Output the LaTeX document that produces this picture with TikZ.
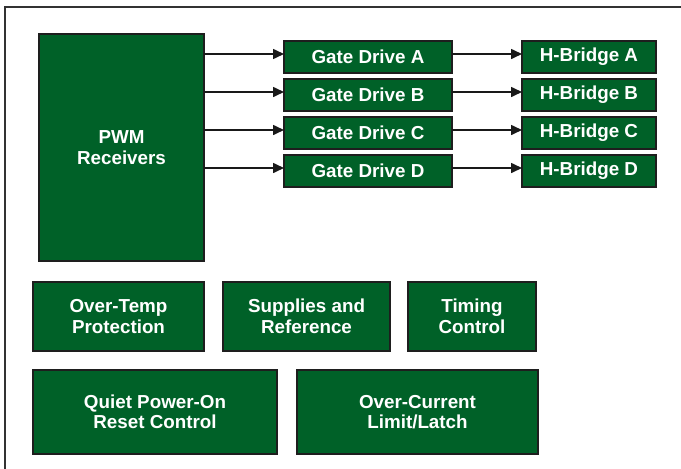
\documentclass[tikz,border=0pt]{standalone}
\usepackage{fontspec}
\setmainfont{Liberation Sans}
\usetikzlibrary{arrows.meta}
\definecolor{blockgreen}{RGB}{0,97,40}
\definecolor{blockedge}{RGB}{30,30,30}
\definecolor{framegray}{RGB}{50,50,50}
\tikzset{
  blk/.style={draw=blockedge, line width=1.6pt, fill=blockgreen, text=white,
    font=\bfseries\fontsize{18.8}{20.5}\selectfont, align=center,
    inner sep=0pt, outer sep=0pt},
  arr/.style={line width=1.6pt, draw=black!90,
    -{Triangle[length=11pt,width=10pt]}},
}
\begin{document}
\begin{tikzpicture}[x=1pt,y=-1pt]
\useasboundingbox[fill=white] (0,0) rectangle (681,469);
% open frame along the top and left
\draw[framegray, line width=1.5pt] (5,469) -- (5,7) -- (681,7);

% receiver block
\node[blk, minimum width=165, minimum height=227] (pwm) at (121.5,147.5) {PWM\\Receivers};

% gate drives and bridges
\foreach \ch/\yy in {A/57,B/95,C/133,D/171}{
  \node[blk, minimum width=168, minimum height=32] (g\ch) at (368,\yy) {Gate Drive \ch};
  \node[blk, minimum width=134, minimum height=32] (h\ch) at (589,\yy) {H-Bridge \ch};
  \draw[arr] ([yshift=3pt]g\ch.west -| pwm.east) -- ([yshift=3pt]g\ch.west);
  \draw[arr] ([yshift=3pt]g\ch.east) -- ([yshift=3pt]h\ch.west);
}

% support blocks
\node[blk, minimum width=171, minimum height=69] (otp) at (118.5,316.5) {Over-Temp\\Protection};
\node[blk, minimum width=167, minimum height=69] (sup) at (306.5,316.5) {Supplies and\\Reference};
\node[blk, minimum width=128, minimum height=69] (tim) at (472,316.5) {Timing\\Control};
\node[blk, minimum width=244, minimum height=84] (por) at (155,412) {Quiet Power-On\\Reset Control};
\node[blk, minimum width=241, minimum height=84] (ocl) at (417.5,412) {Over-Current\\Limit/Latch};
\end{tikzpicture}
\end{document}
